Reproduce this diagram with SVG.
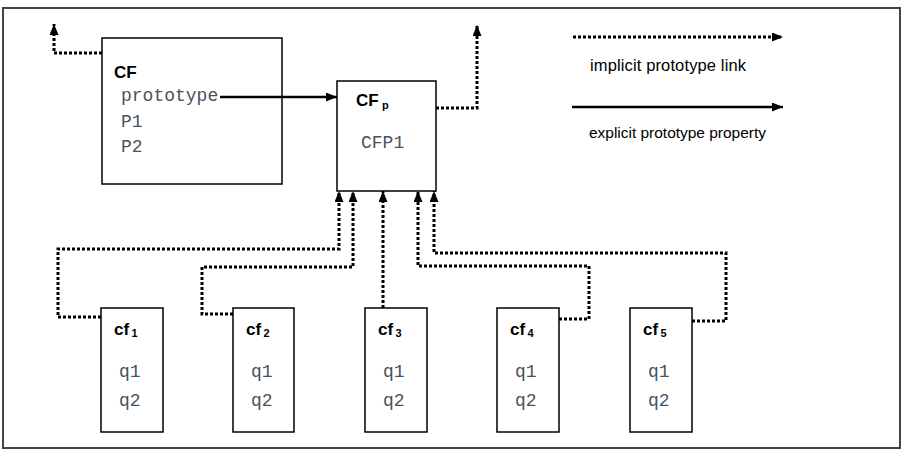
<svg xmlns="http://www.w3.org/2000/svg" width="906" height="457" viewBox="0 0 906 457">
<defs>
<style>
.box{fill:#fff;stroke:#000;stroke-width:1.5}
.frame{fill:#fff;stroke:#444;stroke-width:2}
.title{font-family:"Liberation Sans",Arial,sans-serif;font-weight:bold;font-size:17px;fill:#000}
.sub{font-family:"Liberation Sans",Arial,sans-serif;font-weight:bold;font-size:11px;fill:#000}
.mono{font-family:"Liberation Mono","Courier New",monospace;font-size:18px;fill:#4a525c}
.legend{font-family:"Liberation Sans",Arial,sans-serif;fill:#000}
.dot{fill:none;stroke:#000;stroke-width:3;stroke-dasharray:3 2;marker-end:url(#ah)}
.solid{fill:none;stroke:#000;stroke-width:2.5;marker-end:url(#ah)}
</style>
<marker id="ah" markerUnits="userSpaceOnUse" markerWidth="11" markerHeight="9" refX="11" refY="4.5" orient="auto">
<path d="M0,0 L11,4.5 L0,9 z" fill="#000"/>
</marker>
</defs>
<rect class="frame" x="3" y="8" width="897" height="440"/>

<g id="CF">
<rect class="box" x="102" y="38" width="180" height="146"/>
<text class="title" x="114" y="78">CF</text>
<text class="mono" x="121" y="101">prototype</text>
<text class="mono" x="121" y="127">P1</text>
<text class="mono" x="121" y="152">P2</text>
</g>

<g id="CFp">
<rect class="box" x="337" y="81" width="99" height="110"/>
<text class="title" x="356" y="106">CF</text>
<text class="sub" x="382" y="109">p</text>
<text class="mono" x="361" y="148">CFP1</text>
</g>

<g id="cf1">
<rect class="box" x="101" y="308" width="62" height="124"/>
<text class="title" x="114" y="335">cf</text>
<text class="sub" x="131.5" y="337">1</text>
<text class="mono" x="119" y="377">q1</text>
<text class="mono" x="119" y="406">q2</text>
</g>

<g id="cf2">
<rect class="box" x="233" y="308" width="61" height="124"/>
<text class="title" x="246" y="335">cf</text>
<text class="sub" x="263.5" y="337">2</text>
<text class="mono" x="251" y="377">q1</text>
<text class="mono" x="251" y="406">q2</text>
</g>

<g id="cf3">
<rect class="box" x="365" y="308" width="62" height="124"/>
<text class="title" x="378" y="335">cf</text>
<text class="sub" x="395.5" y="337">3</text>
<text class="mono" x="383" y="377">q1</text>
<text class="mono" x="383" y="406">q2</text>
</g>

<g id="cf4">
<rect class="box" x="497" y="308" width="62" height="124"/>
<text class="title" x="510" y="335">cf</text>
<text class="sub" x="527.5" y="337">4</text>
<text class="mono" x="515" y="377">q1</text>
<text class="mono" x="515" y="406">q2</text>
</g>

<g id="cf5">
<rect class="box" x="630" y="308" width="62" height="124"/>
<text class="title" x="643" y="335">cf</text>
<text class="sub" x="660.5" y="337">5</text>
<text class="mono" x="648" y="377">q1</text>
<text class="mono" x="648" y="406">q2</text>
</g>

<g id="connectors">
<polyline class="dot" points="102,53 54,53 54,24"/>
<line class="solid" x1="220" y1="97" x2="337" y2="97"/>
<polyline class="dot" points="436,108 477,108 477,25"/>
<polyline class="dot" points="101,317 58,317 58,249 339,249 339,191"/>
<polyline class="dot" points="233,314 202,314 202,267 353,267 353,191"/>
<polyline class="dot" points="383,308 383,191"/>
<polyline class="dot" points="559,319 589,319 589,266 418,266 418,191"/>
<polyline class="dot" points="692,321 726,321 726,253 434,253 434,191"/>
</g>

<g id="legend">
<line class="dot" x1="573" y1="37" x2="783" y2="37"/>
<text class="legend" x="590" y="71" font-size="16.5" textLength="156">implicit prototype link</text>
<line class="solid" x1="572" y1="107" x2="783" y2="107"/>
<text class="legend" x="589" y="138" font-size="15.5" textLength="177">explicit prototype property</text>
</g>
</svg>
